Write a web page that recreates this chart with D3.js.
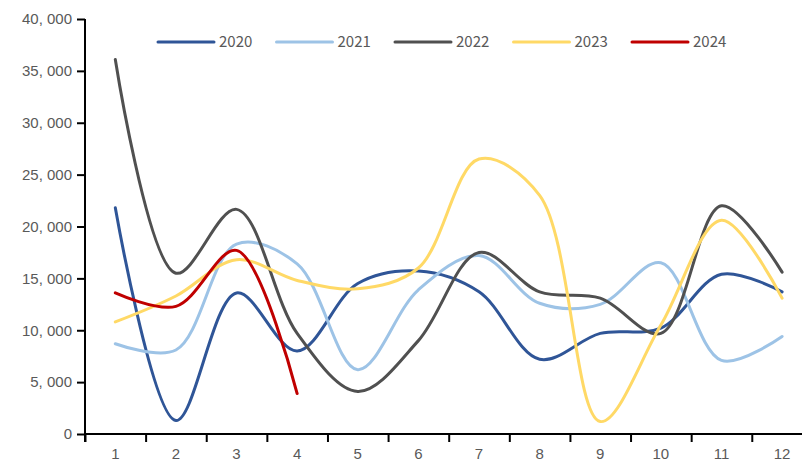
<!DOCTYPE html>
<html>
<head>
<meta charset="utf-8">
<script src="https://cdn.jsdelivr.net/npm/d3@7"></script>
<style>
  body { margin: 0; background: #fff; }
  svg { display: block; font-family: "Noto Sans CJK SC", "Noto Sans", sans-serif; }
  .axis text { fill: #595959; font-size: 15px; }
  .axis path, .axis line { stroke: #000; stroke-width: 2; }
</style>
</head>
<body>
<svg id="chart"></svg>
<script>
const months = [1, 2, 3, 4, 5, 6, 7, 8, 9, 10, 11, 12];
const years = ['2020', '2021', '2022', '2023', '2024'];
const colors = ['#2F5597', '#9DC3E6', '#505050', '#FFD966', '#C00000'];

const v2020 = [21800, 1300, 13600, 8000, 14500, 15700, 13700, 7200, 9700, 10200, 15400, 13700];
const v2021 = [8700, 8100, 18300, 16400, 6200, 13900, 17200, 12600, 12500, 16500, 7100, 9400];
const v2022 = [36100, 15500, 21650, 9700, 4100, 9000, 17500, 13700, 13100, 9700, 22000, 15600];
const v2023 = [10800, 13300, 16800, 14800, 14000, 16000, 26500, 23000, 1200, 10500, 20600, 13100];
const v2024 = [13600, 12300, 17700, 3900];

const yTicks = [0, 5000, 10000, 15000, 20000, 25000, 30000, 35000, 40000];

const series = [v2020, v2021, v2022, v2023, v2024].map((vals, i) => ({
  name: years[i],
  color: colors[i],
  values: vals.map((v, j) => ({ month: months[j], value: v })),
}));

const width = 802;
const height = 464;
const plotLeft = 85;
const plotRight = 812.4;
const plotTop = 19;
const plotBottom = 434;

const svg = d3.select('#chart').attr('width', width).attr('height', height);

const x = d3.scaleBand()
  .domain(months)
  .range([plotLeft, plotRight])
  .padding(0);
const xEdge = d3.scaleLinear()
  .domain([0, months.length])
  .range([plotLeft, plotRight]);
const y = d3.scaleLinear()
  .domain([0, 40000])
  .range([plotBottom, plotTop]);

const fmt = v => d3.format(',')(v).replace(',', ', ');

// Y axis
const gy = svg.append('g')
  .attr('class', 'axis y')
  .attr('transform', `translate(${plotLeft}, 0)`)
  .call(d3.axisLeft(y).tickValues(yTicks).tickSize(8).tickSizeOuter(0).tickPadding(5).tickFormat(fmt));
gy.select('.domain').attr('d', `M0,${plotTop}V${plotBottom + 8}`);

// X axis ticks at category edges
svg.append('g')
  .attr('class', 'axis x-ticks')
  .attr('transform', `translate(0, ${plotBottom})`)
  .call(d3.axisBottom(xEdge).tickValues(d3.range(0, months.length + 1)).tickSize(8).tickSizeOuter(0).tickFormat(''))
  .select('.domain').attr('d', `M${plotLeft},0H${width}`);

// X labels
svg.append('g')
  .attr('class', 'axis x-labels')
  .attr('transform', `translate(0, ${plotBottom})`)
  .call(d3.axisBottom(x).tickSize(0).tickPadding(14))
  .select('.domain').remove();

// Lines
const line = d3.line()
  .x(d => x(d.month) + x.bandwidth() / 2)
  .y(d => y(d.value))
  .curve(d3.curveCatmullRom.alpha(0.5));

svg.append('g')
  .selectAll('path')
  .data(series)
  .enter().append('path')
    .attr('fill', 'none')
    .attr('stroke', d => d.color)
    .attr('stroke-width', 3)
    .attr('stroke-linejoin', 'round')
    .attr('stroke-linecap', 'round')
    .attr('d', d => line(d.values));

// Legend
const legend = svg.append('g')
  .attr('transform', 'translate(158, 42)');
const item = legend.selectAll('g')
  .data(series)
  .enter().append('g')
    .attr('transform', (d, i) => `translate(${i * 118.5}, 0)`);
item.append('line')
  .attr('x1', 0).attr('x2', 56)
  .attr('y1', 0).attr('y2', 0)
  .attr('stroke', d => d.color)
  .attr('stroke-width', 3)
  .attr('stroke-linecap', 'round');
item.append('text')
  .attr('x', 61)
  .attr('y', 0)
  .attr('dy', '0.35em')
  .attr('fill', '#595959')
  .attr('font-size', 15)
  .text(d => d.name);
</script>
</body>
</html>
